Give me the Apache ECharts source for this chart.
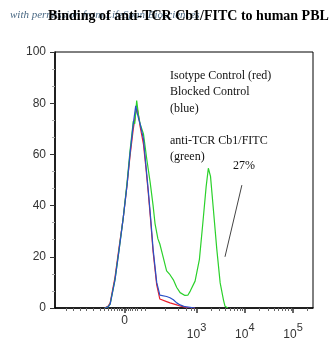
<!DOCTYPE html>
<html><head><meta charset="utf-8">
<script src="https://cdn.jsdelivr.net/npm/echarts@6/dist/echarts.min.js"></script>
<style>html,body{margin:0;padding:0;background:#fff}#c{width:331px;height:354px}</style>
</head><body><div id="c"></div>
<script>
// x values are display positions on a biexponential axis (log10 units; "0" sits at 1.51)
const zeroPos = 1.51;
const majorTicks = [1.51, 3, 4, 5];
const minorTicks = [0.30,0.44,0.58,0.72,0.86,1.0,1.09,1.17,1.24,1.30,1.35,1.39,1.43,1.47,1.55,1.59,1.63,1.67,1.72,1.78,1.85,1.93,2.35,2.62,2.78,2.90,2.95,
  3.301,3.477,3.602,3.699,3.778,3.845,3.903,3.954,4.301,4.477,4.602,4.699,4.778,4.845,4.903,4.954,5.301];
const yTicks = [0,20,40,60,80,100];

const blue = [[1.10,0],[1.17,0.5],[1.21,1.5],[1.31,11],[1.39,22],[1.48,35],[1.56,48],[1.62,60],[1.69,72],[1.74,79],[1.76,77],[1.80,74],[1.83,72],[1.90,66],[1.95,56],[2.00,46],[2.05,35],[2.10,23],[2.175,10],[2.24,5],[2.28,5],[2.38,4.5],[2.45,4],[2.52,3.2],[2.59,2],[2.66,1.2],[2.76,0.5],[2.97,0]];
const red = [[1.10,0],[1.17,0.8],[1.21,2],[1.31,12],[1.39,23],[1.48,35],[1.56,48],[1.62,59],[1.69,70],[1.74,76],[1.77,78],[1.80,75],[1.83,71],[1.90,64],[1.95,55],[2.00,45],[2.05,34],[2.10,22],[2.175,9],[2.24,3.5],[2.28,2.8],[2.38,2.5],[2.45,2],[2.52,1.6],[2.59,1.2],[2.66,0.8],[2.76,0.3],[2.97,0]];
const green = [[1.10,0],[1.17,0.5],[1.21,1.5],[1.31,11],[1.39,22],[1.48,35],[1.56,49],[1.62,61],[1.69,73],[1.72,72],[1.76,81],[1.80,75],[1.83,72],[1.90,68],[1.97,58],[2.04,49],[2.10,40],[2.14,33],[2.20,27],[2.24,25],[2.28,22],[2.38,14.5],[2.45,13],[2.52,11],[2.59,8],[2.66,6],[2.76,4.9],[2.82,5],[2.87,6.6],[2.97,10.5],[3.06,19],[3.13,33],[3.20,47.5],[3.245,54.6],[3.29,51.4],[3.35,38.4],[3.42,23],[3.49,9.8],[3.56,3],[3.59,0.7],[3.65,0]];
const pointer = [[3.94,48],[3.59,20]];

const titleText = 'Binding of anti-TCR Cb1/FITC to human PBL';
const creditText = 'with permission from LifeSpan Biosciences';
const legendLines = ['Isotype Control (red)','Blocked Control','(blue)','','anti-TCR Cb1/FITC','(green)'];
const pctText = '27%';

const chart = echarts.init(document.getElementById('c'));
const serif = '"Liberation Serif","Times New Roman",serif';
const sans = '"Liberation Sans",Arial,sans-serif';
const xmin = 0.067, xmax = 5.414;
chart.setOption({
  animation:false,
  grid:{left:55,top:52,right:18,bottom:46,show:true,borderColor:'#000',borderWidth:1},
  graphic:[
    {type:'text',left:10,top:10,z:1,style:{text:creditText,font:'italic 11px '+serif,fill:'#2a4f6e',opacity:0.85}},
    {type:'text',left:48,top:9,z:10,style:{text:titleText,font:'bold 14px '+serif,fill:'#000'}},
    {type:'text',left:170,top:68,style:{text:legendLines.join('\n'),font:'12px '+serif,fill:'#111',lineHeight:16.2}},
    {type:'text',left:233,top:160,style:{text:pctText,font:'12px '+serif,fill:'#111'}}
  ],
  xAxis:[{
    type:'value',min:xmin,max:xmax,
    axisLine:{show:true,lineStyle:{color:'#000',width:1.5}},
    splitLine:{show:false},
    axisTick:{show:true,length:5,customValues:majorTicks,lineStyle:{color:'#333',width:1.5}},
    axisLabel:{customValues:majorTicks,margin:7,color:'#333',fontFamily:sans,fontSize:12,
      formatter:v=>Math.abs(v-zeroPos)<0.01?'{z|0}':'{b|10}{s|'+Math.round(v)+'}',
      rich:{z:{fontSize:12,fontFamily:sans,color:'#333'},
            b:{fontSize:12,fontFamily:sans,color:'#333',padding:[14,0,0,0]},
            s:{fontSize:11,fontFamily:sans,color:'#333',padding:[0,0,0,0]}}}
  },{
    type:'value',min:xmin,max:xmax,position:'bottom',
    axisLine:{show:false},splitLine:{show:false},
    axisTick:{show:true,length:3,customValues:minorTicks,lineStyle:{color:'#666',width:1}},
    axisLabel:{show:false}
  }],
  yAxis:{type:'value',min:0,max:100,interval:20,
    axisLine:{show:true,lineStyle:{color:'#000',width:1.5}},
    splitLine:{show:false},
    axisTick:{show:true,length:5,lineStyle:{color:'#333'}},
    minorTick:{show:true,splitNumber:3,length:3,lineStyle:{color:'#aaa'}},
    axisLabel:{margin:9,color:'#333',fontFamily:sans,fontSize:12,customValues:yTicks}
  },
  series:[
    {type:'line',data:red,showSymbol:false,lineStyle:{color:'#e8202e',width:1.2},z:2},
    {type:'line',data:green,showSymbol:false,lineStyle:{color:'#2bd12b',width:1.2},z:3,
      markLine:{silent:true,symbol:['none','none'],label:{show:false},lineStyle:{color:'#444',width:1,type:'solid'},
        data:[[{coord:pointer[0]},{coord:pointer[1]}]]}},
    {type:'line',data:blue,showSymbol:false,lineStyle:{color:'#2850c8',width:1.2},z:4}
  ]
});
</script></body></html>
